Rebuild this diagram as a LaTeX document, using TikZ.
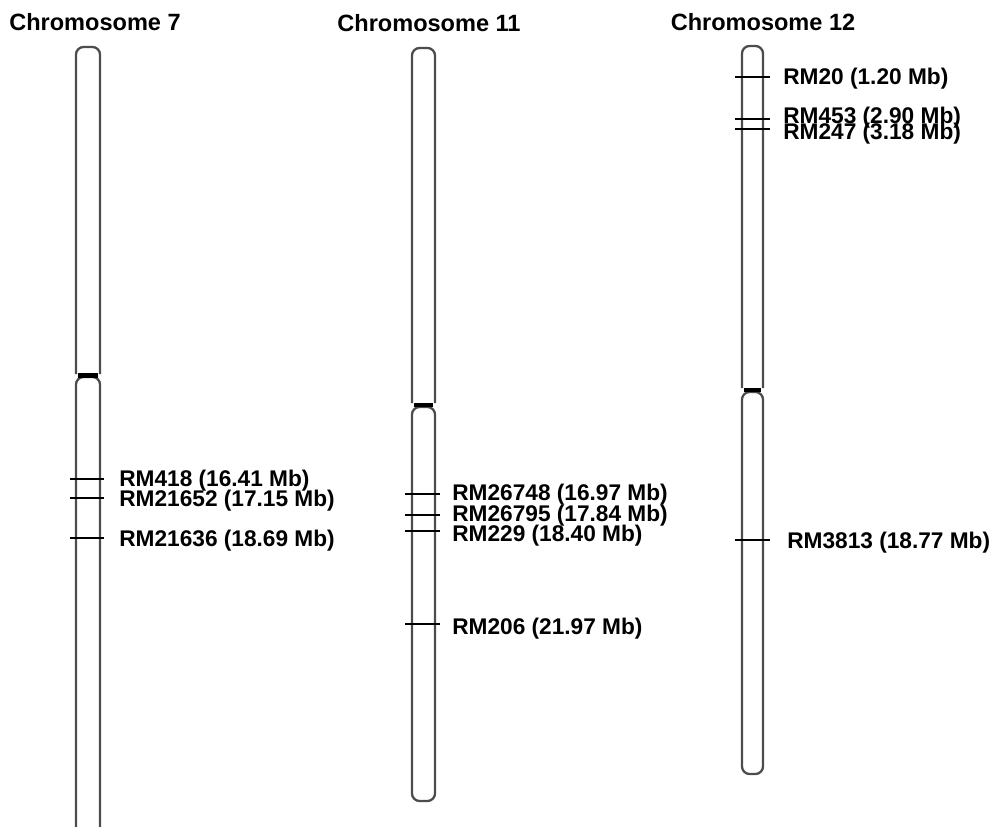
\documentclass[tikz,border=0pt]{standalone}
\usepackage{fontspec}
\setmainfont{Liberation Sans}
\usetikzlibrary{positioning}

\begin{document}
\begin{tikzpicture}[
    x=0.02cm, y=-0.02cm,
    chrom arm/.style={draw=black!70, line width=1.3pt, rounded corners=0.15cm},
    centromere/.style={draw=black, line width=2.3pt},
    marker line/.style={draw=black, line width=1.3pt},
    marker label/.style={anchor=base west, inner sep=0pt,
        font=\bfseries\fontsize{12.9}{14}\selectfont},
    chrom title/.style={anchor=base, inner sep=0pt,
        font=\bfseries\fontsize{13.4}{15}\selectfont}
  ]

  \useasboundingbox (0,0) rectangle (990,827);

  % Chromosome 7
  \node[chrom title] (title_7) at (95,31) {Chromosome 7};

  \draw[chrom arm] (76,374) -- (76,47) -- (100,47) -- (100,374);
  \draw[chrom arm] (76,827) -- (76,377) -- (100,377) -- (100,827);

  \coordinate (cen7_l) at (78,375.5);
  \coordinate (cen7_r) at (98,375.5);
  \draw[centromere] (cen7_l) -- (cen7_r);

  \coordinate (m418_l) at (70,479);
  \coordinate (m418_r) at (104,479);
  \coordinate (m21652_l) at (70,498);
  \coordinate (m21652_r) at (104,498);
  \coordinate (m21636_l) at (70,538);
  \coordinate (m21636_r) at (104,538);

  \draw[marker line] (m418_l) -- (m418_r);
  \draw[marker line] (m21652_l) -- (m21652_r);
  \draw[marker line] (m21636_l) -- (m21636_r);

  \node[marker label] (lab_418) at (119,486) {RM418 (16.41 Mb)};
  \node[marker label] (lab_21652) at (119,506) {RM21652 (17.15 Mb)};
  \node[marker label] (lab_21636) at (119,546) {RM21636 (18.69 Mb)};

  % Chromosome 11
  \node[chrom title] (title_11) at (429,32) {Chromosome 11};

  \draw[chrom arm] (412,403) -- (412,48) -- (435,48) -- (435,403);
  \draw[chrom arm] (412,407) -- (412,801) -- (435,801) -- (435,407) -- cycle;

  \coordinate (cen11_l) at (414,405);
  \coordinate (cen11_r) at (433,405);
  \draw[centromere] (cen11_l) -- (cen11_r);

  \coordinate (m26748_l) at (405,494);
  \coordinate (m26748_r) at (440,494);
  \coordinate (m26795_l) at (405,515);
  \coordinate (m26795_r) at (440,515);
  \coordinate (m229_l) at (405,531);
  \coordinate (m229_r) at (440,531);
  \coordinate (m206_l) at (405,624);
  \coordinate (m206_r) at (440,624);

  \draw[marker line] (m26748_l) -- (m26748_r);
  \draw[marker line] (m26795_l) -- (m26795_r);
  \draw[marker line] (m229_l) -- (m229_r);
  \draw[marker line] (m206_l) -- (m206_r);

  \node[marker label] (lab_26748) at (452,500) {RM26748 (16.97 Mb)};
  \node[marker label] (lab_26795) at (452,521) {RM26795 (17.84 Mb)};
  \node[marker label] (lab_229) at (452,541) {RM229 (18.40 Mb)};
  \node[marker label] (lab_206) at (452,634) {RM206 (21.97 Mb)};

  % Chromosome 12
  \node[chrom title] (title_12) at (763,31) {Chromosome 12};

  \draw[chrom arm] (742,388) -- (742,46) -- (763,46) -- (763,388);
  \draw[chrom arm] (742,392) -- (742,774) -- (763,774) -- (763,392) -- cycle;

  \coordinate (cen12_l) at (744,390);
  \coordinate (cen12_r) at (761,390);
  \draw[centromere] (cen12_l) -- (cen12_r);

  \coordinate (m20_l) at (735,77);
  \coordinate (m20_r) at (770,77);
  \coordinate (m453_l) at (735,119);
  \coordinate (m453_r) at (770,119);
  \coordinate (m247_l) at (735,129);
  \coordinate (m247_r) at (770,129);
  \coordinate (m3813_l) at (735,540);
  \coordinate (m3813_r) at (770,540);

  \draw[marker line] (m20_l) -- (m20_r);
  \draw[marker line] (m453_l) -- (m453_r);
  \draw[marker line] (m247_l) -- (m247_r);
  \draw[marker line] (m3813_l) -- (m3813_r);

  \node[marker label] (lab_20) at (783,85) {RM20 (1.20 Mb)};
  \node[marker label] (lab_453) at (783,124) {RM453 (2.90 Mb)};
  \node[marker label] (lab_247) at (783,140) {RM247 (3.18 Mb)};
  \node[marker label] (lab_3813) at (787,548) {RM3813 (18.77 Mb)};

\end{tikzpicture}
\end{document}
